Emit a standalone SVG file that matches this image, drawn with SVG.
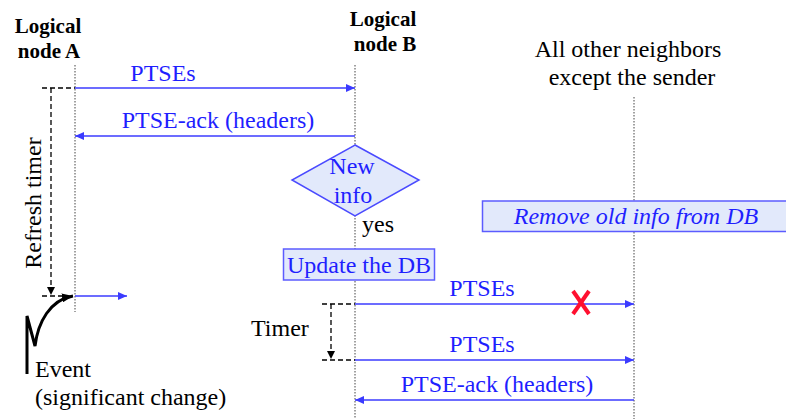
<svg xmlns="http://www.w3.org/2000/svg" width="786" height="419" viewBox="0 0 786 419" font-family="Liberation Serif, Times New Roman, serif">
<defs>
<marker id="ah" markerUnits="userSpaceOnUse" markerWidth="9" markerHeight="8" refX="9" refY="4" orient="auto">
<path d="M0,0 L9,4 L0,8 z" fill="#3b3bff"/>
</marker>
<marker id="ahk" markerUnits="userSpaceOnUse" markerWidth="8" markerHeight="8" refX="8" refY="4" orient="auto">
<path d="M0,0 L8,4 L0,8 z" fill="#000"/>
</marker>
<marker id="ahe" markerUnits="userSpaceOnUse" markerWidth="11" markerHeight="9" refX="11" refY="4.5" orient="auto">
<path d="M0,0 L11,4.5 L0,9 z" fill="#000"/>
</marker>
</defs>
<rect width="786" height="419" fill="#fff"/>

<g id="lifelines" stroke="#444" stroke-width="1" stroke-dasharray="1.5 1.5" fill="none">
<line x1="75" y1="65" x2="75" y2="312"/>
<line x1="355" y1="65" x2="355" y2="419"/>
<line x1="634" y1="97" x2="634" y2="419"/>
</g>

<g id="nodeA">
<text x="48" y="33" font-family="Liberation Serif" font-size="21" font-weight="bold" text-anchor="middle">Logical</text>
<text x="49" y="58" font-family="Liberation Serif" font-size="21" font-weight="bold" text-anchor="middle">node A</text>
</g>
<g id="nodeB">
<text x="383" y="26" font-family="Liberation Serif" font-size="21" font-weight="bold" text-anchor="middle">Logical</text>
<text x="385" y="51" font-family="Liberation Serif" font-size="21" font-weight="bold" text-anchor="middle">node B</text>
</g>
<g id="nodeOthers">
<text x="628" y="57" font-family="Liberation Serif" font-size="24" text-anchor="middle">All other neighbors</text>
<text x="632" y="85" font-family="Liberation Serif" font-size="24" text-anchor="middle">except the sender</text>
</g>

<g id="decision">
<polygon points="355,145 419,180 355,216 292,180" fill="#e2e9fb" stroke="#4a4aff" stroke-width="1.5"/>
<text x="352" y="174" fill="#1f1fff" text-anchor="middle" font-family="Liberation Serif" font-size="24">New</text>
<text x="353" y="203" fill="#1f1fff" text-anchor="middle" font-family="Liberation Serif" font-size="24">info</text>
<text x="362" y="232" font-family="Liberation Serif" font-size="24">yes</text>
</g>
<g id="update">
<rect x="283.5" y="249" width="151" height="31" fill="#e2e9fb" stroke="#5c5cff" stroke-width="1.5"/>
<text x="359" y="273" fill="#1f1fff" text-anchor="middle" font-family="Liberation Serif" font-size="24">Update the DB</text>
</g>
<g id="remove">
<rect x="482.5" y="201" width="310" height="30.5" fill="#e2e9fb" stroke="#5c5cff" stroke-width="1.5"/>
<text x="636" y="224" fill="#1f1fff" text-anchor="middle" font-style="italic" font-family="Liberation Serif" font-size="24">Remove old info from DB</text>
</g>

<g id="refreshTimer">
<g stroke="#000" stroke-width="1.3" stroke-dasharray="5 3" fill="none">
<line x1="42" y1="88" x2="75" y2="88"/>
<line x1="51" y1="88" x2="51" y2="295" marker-end="url(#ahk)"/>
<line x1="42" y1="296" x2="66" y2="296"/>
</g>
<text transform="translate(41,203) rotate(-90)" text-anchor="middle" font-family="Liberation Serif" font-size="24">Refresh timer</text>
</g>
<g id="timer">
<g stroke="#000" stroke-width="1.3" stroke-dasharray="5 3" fill="none">
<line x1="322" y1="304" x2="355" y2="304"/>
<line x1="331" y1="304" x2="331" y2="359" marker-end="url(#ahk)"/>
<line x1="322" y1="360" x2="355" y2="360"/>
</g>
<text x="251" y="336" font-family="Liberation Serif" font-size="24">Timer</text>
</g>
<g id="event">
<path d="M27,374 L27,316 L35,346 C38,322 50,300 73,296" fill="none" stroke="#000" stroke-width="3" marker-end="url(#ahe)"/>
<text x="35" y="377" font-family="Liberation Serif" font-size="24">Event</text>
<text x="35" y="405" font-family="Liberation Serif" font-size="24">(significant change)</text>
</g>

<g id="connectors">
<g stroke="#3b3bff" stroke-width="1.4" fill="none" marker-end="url(#ah)">
<line x1="75" y1="88" x2="355" y2="88"/>
<line x1="355" y1="136" x2="75" y2="136"/>
<line x1="75" y1="296" x2="127" y2="296"/>
<line x1="355" y1="304" x2="634" y2="304"/>
<line x1="355" y1="360" x2="634" y2="360"/>
<line x1="634" y1="400" x2="355" y2="400"/>
</g>
<text x="163" y="81" fill="#1f1fff" text-anchor="middle" font-family="Liberation Serif" font-size="24">PTSEs</text>
<text x="218" y="128" fill="#1f1fff" text-anchor="middle" font-family="Liberation Serif" font-size="24">PTSE-ack (headers)</text>
<text x="482" y="296" fill="#1f1fff" text-anchor="middle" font-family="Liberation Serif" font-size="24">PTSEs</text>
<text x="482" y="352" fill="#1f1fff" text-anchor="middle" font-family="Liberation Serif" font-size="24">PTSEs</text>
<text x="497" y="392" fill="#1f1fff" text-anchor="middle" font-family="Liberation Serif" font-size="24">PTSE-ack (headers)</text>
<g id="lost" stroke="#ff1030" stroke-width="4">
<line x1="573" y1="291" x2="589" y2="314"/>
<line x1="589" y1="291" x2="573" y2="314"/>
</g>
</g>
</svg>
